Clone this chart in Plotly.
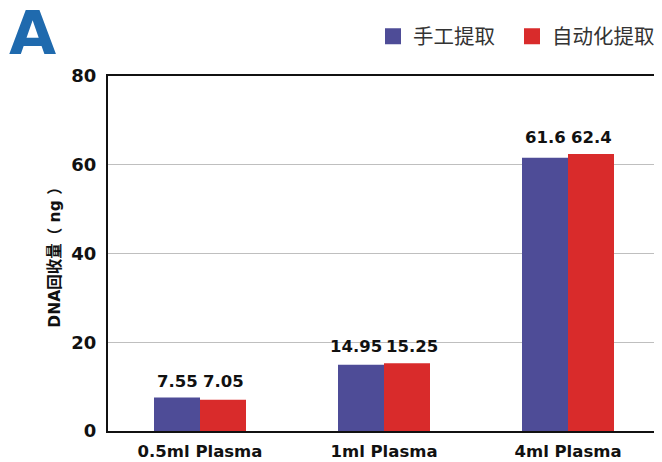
import plotly.graph_objects as go

categories = ["0.5ml Plasma", "1ml Plasma", "4ml Plasma"]
manual = [7.55, 14.95, 61.6]
auto = [7.05, 15.25, 62.4]
manual_labels = ["7.55", "14.95", "61.6"]
auto_labels = ["7.05", "15.25", "62.4"]
y_ticks = [0, 20, 40, 60, 80]
series_names = ["手工提取", "自动化提取"]

BLUE = "#4E4C97"
RED = "#D92B2B"
BOLD = "DejaVu Sans, Noto Sans CJK SC, sans-serif"

fig = go.Figure()
fig.add_trace(go.Bar(x=categories, y=manual, name=series_names[0], showlegend=False,
                     marker=dict(color=BLUE, line=dict(width=0))))
fig.add_trace(go.Bar(x=categories, y=auto, name=series_names[1], showlegend=False,
                     marker=dict(color=RED, line=dict(width=0))))
# legend proxies (square symbols), one legend box per series
for nm, col, lg in zip(series_names, [BLUE, RED], ["legend", "legend2"]):
    fig.add_trace(go.Scatter(x=[None], y=[None], mode="markers", name=nm, legend=lg,
                             marker=dict(symbol="square", size=16, color=col, line=dict(width=0))))

annotations = []
for c, m, a, ml, al in zip(categories, manual, auto, manual_labels, auto_labels):
    top = max(m, a)
    for txt, sign in ((ml, -1), (al, 1)):
        shift = 23 + max(0, len(txt) - 4) * 5
        annotations.append(dict(x=c, y=top, xref="x", yref="y", text=txt, showarrow=False,
                                xanchor="center", yanchor="bottom", xshift=sign * shift, yshift=5,
                                font=dict(size=16.5, color="#111", family="DejaVu Sans", weight="bold")))

# plot domain spans reference pixels x 108..660, y 76..431
annotations.append(dict(x=(32 - 108) / 552, y=(431 - 33) / 355, xref="paper", yref="paper", text="A",
                        showarrow=False, xanchor="center", yanchor="middle",
                        font=dict(size=61, color="#1F6AAE", family="DejaVu Sans", weight="bold")))

legend_style = dict(orientation="h", y=(431 - 36.5) / 355, yanchor="middle",
                    font=dict(size=20.5, color="#333", family="Noto Sans CJK SC"),
                    itemsizing="trace", bgcolor="rgba(0,0,0,0)")

fig.update_layout(
    width=654, height=454,
    margin=dict(l=100, r=2, t=68, b=31, autoexpand=False),
    paper_bgcolor="white", plot_bgcolor="white",
    barmode="group", bargap=0.5, bargroupgap=0,
    font=dict(family=BOLD, color="#111"),
    legend=dict(x=(373 - 108) / 552, xanchor="left", **legend_style),
    legend2=dict(x=1.0, xanchor="right", **legend_style),
    annotations=annotations,
    showlegend=True,
)
fig.update_xaxes(
    showline=True, linecolor="#111", linewidth=2, mirror=True,
    ticks="", ticklabelstandoff=4,
    tickfont=dict(size=16.5, family="DejaVu Sans", weight="bold", color="#111"),
)
fig.update_yaxes(
    range=[0, 80], tickvals=y_ticks, showgrid=True, gridcolor="#BFBFBF", gridwidth=1,
    showline=True, linecolor="#111", linewidth=2, mirror=True, zeroline=False,
    ticks="", ticklabelstandoff=6,
    tickfont=dict(size=18, family="DejaVu Sans", weight="bold", color="#111"),
    title=dict(text="DNA回收量（ ng ）", standoff=7,
               font=dict(size=15.5, family=BOLD, weight="bold", color="#111")),
)

fig.write_html("out.html")
